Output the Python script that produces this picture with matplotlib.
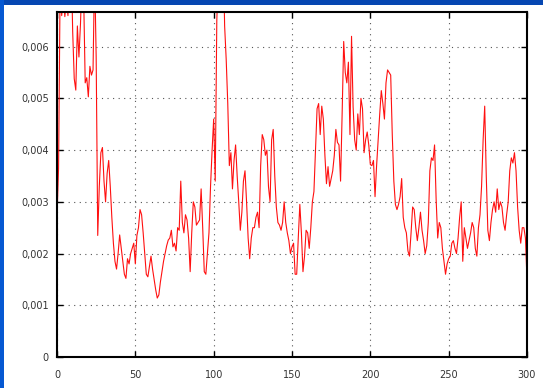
import numpy as np
import matplotlib.pyplot as plt
from matplotlib.patches import Rectangle
from matplotlib.ticker import FuncFormatter

# sample values, in units of 1e-3 (index = sample number 0..300)
vals = [
    2.7, 3.65, 7.2, 6.6, 7.0, 6.58, 6.9, 6.6, 7.5, 7.8,
    6.3, 5.38, 5.16, 6.4, 5.8, 6.45, 7.4, 7.0, 5.3, 5.4,
    5.03, 5.62, 5.45, 5.55, 7.5, 5.8, 2.35, 3.3, 3.95, 4.05,
    3.4, 3.0, 3.55, 3.8, 3.3, 2.7, 2.2, 1.85, 1.7, 2.0,
    2.36, 2.1, 1.85, 1.6, 1.52, 1.9, 1.8, 2.0, 2.1, 2.2,
    1.8, 2.35, 2.5, 2.85, 2.75, 2.4, 2.0, 1.6, 1.55, 1.75,
    1.95, 1.7, 1.5, 1.3, 1.14, 1.2, 1.45, 1.65, 1.85, 2.0,
    2.15, 2.26, 2.3, 2.45, 2.13, 2.2, 2.05, 2.5, 2.45, 3.4,
    2.6, 2.4, 2.75, 2.65, 2.3, 1.65, 2.4, 3.0, 2.9, 2.55,
    2.6, 2.65, 3.25, 2.5, 1.65, 1.6, 2.0, 2.4, 3.3, 4.0,
    4.6, 3.4, 6.5, 7.5, 8.5, 9.0, 8.0, 6.4, 5.75, 4.9,
    3.7, 3.95, 3.25, 3.8, 4.1, 3.5, 3.0, 2.45, 2.8, 3.4,
    3.6, 3.0, 2.3, 1.9, 2.3, 2.5, 2.5, 2.7, 2.8, 2.5,
    3.7, 4.3, 4.2, 3.9, 4.0, 3.29, 3.0, 4.2, 4.4, 3.5,
    2.9, 2.6, 2.55, 2.45, 2.6, 3.0, 2.6, 2.4, 2.25, 2.0,
    2.13, 2.2, 1.6, 1.6, 2.3, 2.95, 2.4, 1.65, 1.95, 2.45,
    2.4, 2.1, 2.5, 3.0, 3.2, 4.0, 4.8, 4.9, 4.3, 4.85,
    4.6, 3.9, 3.35, 3.68, 3.3, 3.45, 3.6, 3.9, 4.4, 4.15,
    4.1, 3.4, 4.7, 6.1, 5.5, 5.3, 5.7, 4.3, 6.2, 4.84,
    4.2, 4.0, 4.7, 4.3, 5.0, 4.8, 3.95, 4.2, 4.35, 4.1,
    3.72, 3.7, 3.8, 3.1, 3.7, 4.2, 4.7, 5.15, 4.9, 4.6,
    5.3, 5.55, 5.5, 5.45, 4.3, 3.4, 2.95, 2.85, 2.95, 3.1,
    3.45, 2.7, 2.5, 2.4, 2.05, 1.95, 2.4, 2.9, 2.85, 2.5,
    2.25, 2.5, 2.8, 2.45, 2.25, 2.0, 2.15, 2.6, 3.6, 3.85,
    3.8, 4.1, 3.05, 2.3, 2.6, 2.5, 2.1, 1.85, 1.6, 1.8,
    1.9, 1.95, 2.2, 2.25, 2.1, 2.0, 2.3, 2.7, 3.0, 1.85,
    2.5, 2.3, 2.1, 2.25, 2.4, 2.6, 2.5, 2.1, 1.95, 2.5,
    2.75, 3.3, 4.2, 4.85, 3.5, 2.45, 2.25, 2.6, 2.85, 3.0,
    2.8, 3.25, 2.85, 3.0, 2.9, 2.6, 2.45, 2.75, 3.0, 3.6,
    3.85, 3.75, 3.95, 3.6, 2.9, 2.45, 2.2, 2.5, 2.5, 2.3,
    1.5,
]
y = np.array(vals) * 1e-3
x = np.arange(len(y))

xticks = [0, 50, 100, 150, 200, 250, 300]
yticks = [0, 0.001, 0.002, 0.003, 0.004, 0.005, 0.006]

fig = plt.figure(figsize=(5.43, 3.88), dpi=100)
fig.patch.set_facecolor('white')

# blue window edge along the top and left
fig.patches.append(Rectangle((0, 1 - 5 / 388), 1, 5 / 388, transform=fig.transFigure,
                             facecolor='#0647b2', edgecolor='none', zorder=0))
fig.patches.append(Rectangle((0, 0), 4 / 543, 1, transform=fig.transFigure,
                             facecolor='#0658d2', edgecolor='none', zorder=0))

ax = fig.add_axes([57 / 543, 31 / 388, 470 / 543, 345 / 388])
ax.plot(x, y, color='#ff1010', lw=0.8)

ax.set_xlim(0, 300)
ax.set_ylim(0, 0.00667)
ax.set_xticks(xticks)
ax.set_yticks(yticks)
ax.yaxis.set_major_formatter(FuncFormatter(
    lambda v, p: '0' if v == 0 else ('%.3f' % v).replace('.', ',')))

ax.grid(True, color='#555555', linestyle=(0, (1, 4)), lw=0.8)
ax.tick_params(direction='in', length=4, width=1, top=True, right=True,
               labelsize=7, labelcolor='#333333', pad=6)
ax.tick_params(axis='x', pad=9)
for s in ax.spines.values():
    s.set_linewidth(1.5)
    s.set_color('black')

fig.savefig('out.png', dpi=100)
